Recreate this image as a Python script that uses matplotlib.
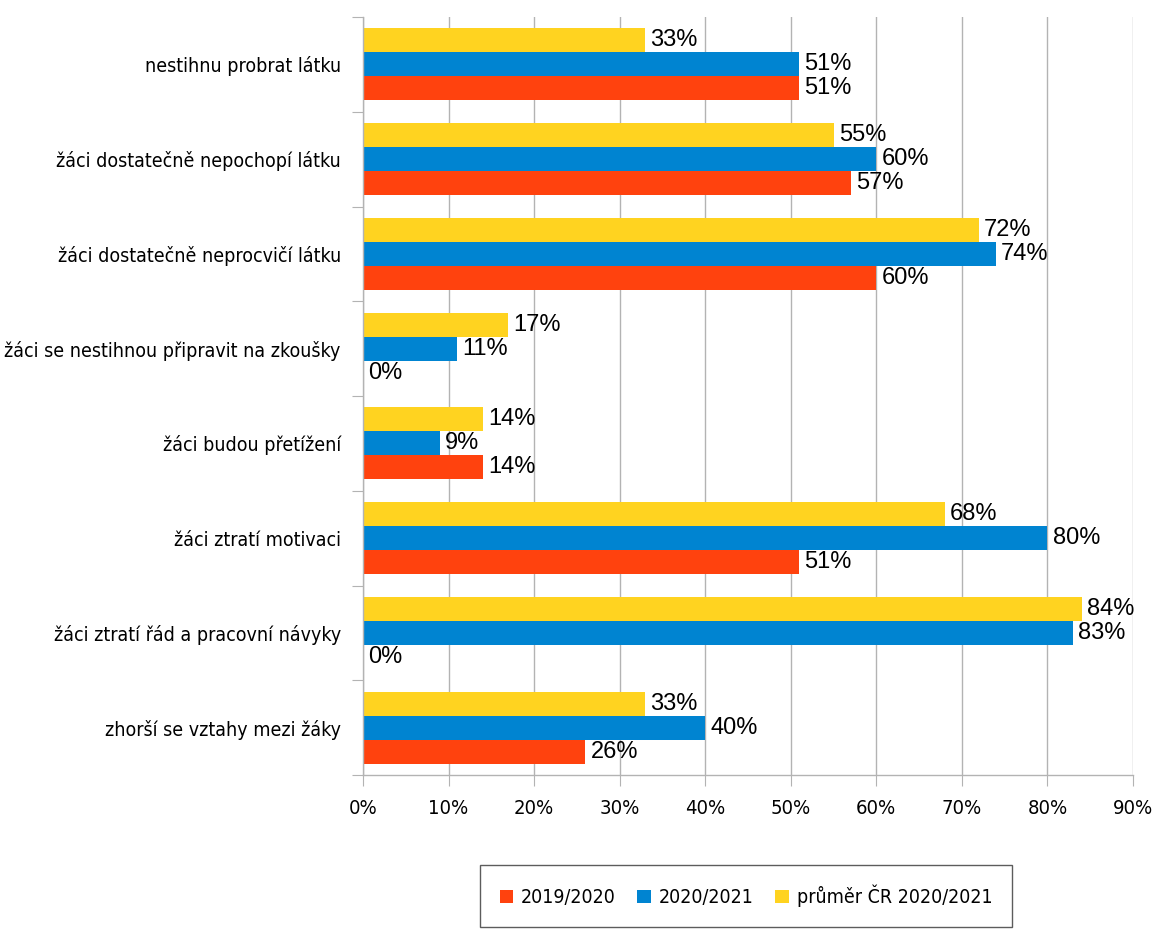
import matplotlib
matplotlib.use("Agg")
import matplotlib.pyplot as plt
import numpy as np
from matplotlib.patches import Patch

categories = [
    "nestihnu probrat látku",
    "žáci dostatečně nepochopí látku",
    "žáci dostatečně neprocvičí látku",
    "žáci se nestihnou připravit na zkoušky",
    "žáci budou přetížení",
    "žáci ztratí motivaci",
    "žáci ztratí řád a pracovní návyky",
    "zhorší se vztahy mezi žáky",
]
series_names = ["2019/2020", "2020/2021", "průměr ČR 2020/2021"]
vals_2019 = [51, 57, 60, 0, 14, 51, 0, 26]
vals_2020 = [51, 60, 74, 11, 9, 80, 83, 40]
vals_cr = [33, 55, 72, 17, 14, 68, 84, 33]
xticks = [0, 10, 20, 30, 40, 50, 60, 70, 80, 90]

colors = ["#ff420e", "#0084d1", "#ffd320"]
cond = dict(family="DejaVu Sans", stretch="condensed")

fig = plt.figure(figsize=(11.55, 9.31), dpi=100)
ax = fig.add_axes([363 / 1155, 1 - 775 / 931, (1133 - 363) / 1155, (775 - 17) / 931])

y = np.arange(len(categories))
h = 0.253
offsets = [h, 0, -h]  # red bottom, blue middle, yellow top (axis inverted)
for vals, off, col in zip([vals_2019, vals_2020, vals_cr], offsets, colors):
    bars = ax.barh(y + off, vals, height=h, color=col, zorder=2)
    for b, v in zip(bars, vals):
        ax.text(v + 0.6, b.get_y() + h / 2, f"{v}%", va="center", ha="left",
                fontsize=17, family="Liberation Sans", color="#000000", zorder=3)

ax.set_xlim(0, 90)
ax.set_ylim(len(categories) - 0.5, -0.5)
ax.set_xticks(xticks)
ax.set_xticklabels([f"{t}%" for t in xticks], fontsize=14.5, **cond)
ax.tick_params(axis="x", length=8, color="#b3b3b3", pad=9)

ax.set_yticks(np.arange(-0.5, len(categories)), labels=[])
ax.set_yticks(y, labels=categories, minor=True)
ax.tick_params(axis="y", which="major", length=8, color="#b3b3b3")
ax.tick_params(axis="y", which="minor", length=0, pad=16)
for lab in ax.get_yticklabels(minor=True):
    lab.set_fontsize(14)
    lab.set_family("DejaVu Sans")
    lab.set_stretch("condensed")

ax.grid(axis="x", color="#b3b3b3", lw=1, zorder=0)
ax.set_axisbelow(True)
for s in ["top", "right"]:
    ax.spines[s].set_visible(False)
for s in ["left", "bottom"]:
    ax.spines[s].set_color("#b3b3b3")
    ax.spines[s].set_linewidth(1)

handles = [Patch(facecolor=c, edgecolor="none") for c in colors]
leg = fig.legend(handles, series_names, ncol=3, loc="center",
                 bbox_to_anchor=(746 / 1155, 1 - 896 / 931),
                 frameon=True, fancybox=False, edgecolor="#333333",
                 prop=dict(size=14, **cond), handlelength=0.7, handleheight=0.7,
                 handletextpad=0.4, columnspacing=1.1, borderpad=1.0)
leg.get_frame().set_linewidth(1)

fig.savefig("out.png", dpi=100)
